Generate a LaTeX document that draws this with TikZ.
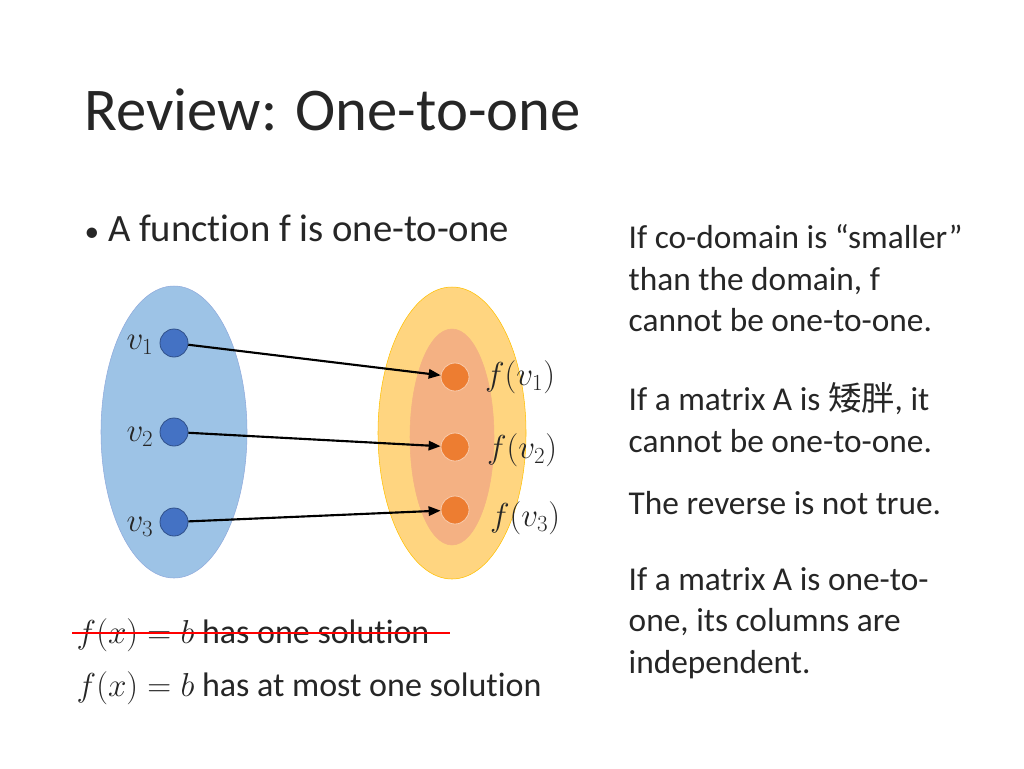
\documentclass[tikz,border=0pt]{standalone}
\usepackage{fontspec}
\setmainfont[Ligatures=NoCommon]{Carlito}
\newfontfamily\cjk{Noto Sans CJK SC}
\usetikzlibrary{arrows.meta}
\definecolor{bluefill}{HTML}{9DC3E6}
\definecolor{blueline}{HTML}{8FAADC}
\definecolor{bluedot}{HTML}{4472C4}
\definecolor{orfill}{HTML}{FFD580}
\definecolor{orline}{HTML}{FFC000}
\definecolor{pkfill}{HTML}{F4B183}
\definecolor{ordot}{HTML}{ED7D31}
\definecolor{txt}{HTML}{262626}
\begin{document}
\begin{tikzpicture}[x=0.75pt,y=-0.75pt,
  dotb/.style={circle,fill=bluedot,draw=bluedot!70!black,line width=0.6pt,minimum size=21pt,inner sep=0},
  doto/.style={circle,fill=ordot,draw=white!60!ordot,line width=0.6pt,minimum size=21pt,inner sep=0},
  lab/.style={font=\fontsize{25}{30}\selectfont,text=txt},
  rt/.style={anchor=north west,align=left,font=\fontsize{25}{31}\selectfont,text=txt},
  arr/.style={-{Triangle[length=9pt,width=7pt]},line width=1.6pt}]
\useasboundingbox (0,0) rectangle (1024,768);
\node[anchor=base west,font=\fontsize{45.5}{54}\selectfont,text=txt] (title) at (80,130) {Review: One-to-one};
\node[anchor=base west,font=\fontsize{29}{34}\selectfont,text=txt] (bul) at (80,241) {{\fontsize{22}{26}\selectfont\textbullet}\ A function f is one-to-one};
\draw[fill=bluefill,draw=blueline] (174,432) ellipse [x radius=73, y radius=146];
\draw[fill=orfill,draw=orline] (452,433) ellipse [x radius=74, y radius=146];
\draw[fill=pkfill,draw=ordot!60] (452,437) ellipse [x radius=42, y radius=108];
\node[dotb] (a1) at (174,343) {};
\node[dotb] (a2) at (174,432) {};
\node[dotb] (a3) at (174,522) {};
\node[doto] (b1) at (455,377) {};
\node[doto] (b2) at (455,447) {};
\node[doto] (b3) at (455,510) {};
\draw[arr] (a1) -- (b1);
\draw[arr] (a2) -- (b2);
\draw[arr] (a3) -- (b3);
\node[lab] (l1) at (140,345) {$v_1$};
\node[lab] (l2) at (140,437) {$v_2$};
\node[lab] (l3) at (140,527) {$v_3$};
\node[lab] (r1) at (520,377) {$f(v_1)$};
\node[lab] (r2) at (522,450) {$f(v_2)$};
\node[lab] (r3) at (525,518) {$f(v_3)$};
\node[anchor=base west,font=\fontsize{25.5}{30}\selectfont,text=txt] (s1) at (72,643) {$f(x)=b$ has one solution};
\draw[red,line width=2.2pt] (72,633) -- (450,633);
\node[anchor=base west,font=\fontsize{25.5}{30}\selectfont,text=txt] (s2) at (72,696) {$f(x)=b$ has at most one solution};
\node[rt] (t1) at (624,220) {If co-domain is ``smaller''\\than the domain, f\\cannot be one-to-one.};
\node[rt] (t2) at (624,378) {If a matrix A is {\cjk 矮胖}, it\\cannot be one-to-one.};
\node[rt] (t3) at (624,487) {The reverse is not true.};
\node[rt] (t4) at (624,563) {If a matrix A is one-to-\\one, its columns are\\independent.};
\end{tikzpicture}
\end{document}
